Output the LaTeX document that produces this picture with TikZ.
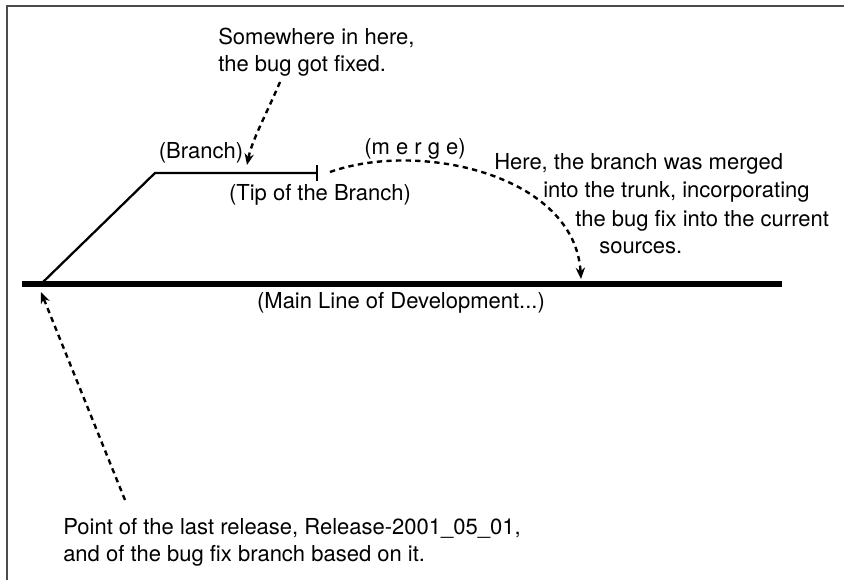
\documentclass[tikz,border=0pt]{standalone}
\usepackage{fontspec}
\setmainfont{TeX Gyre Heros}
\usetikzlibrary{arrows.meta}
\begin{document}
\begin{tikzpicture}[x=0.75pt, y=-0.75pt,
    lbl/.style={inner sep=0pt, font=\fontsize{16.5pt}{20.25pt}\selectfont},
    note/.style={line width=1.8pt, dash pattern=on 4pt off 3.2pt, -{Stealth[length=8.5pt,width=7pt]}}]
        \useasboundingbox (0,0) rectangle (844,580);
        \draw[line width=1.5pt, black!70] (7,580) -- (7,6) -- (844,6);

        \coordinate (mainstart) at (22,284);
        \coordinate (mainend) at (782,284);
        \coordinate (root) at (41,284);
        \coordinate (bend) at (155,173);
        \coordinate (tip) at (318,173);

        \draw[line width=4pt] (mainstart) -- (mainend);
        \draw[line width=1.7pt, -{Bar[width=12pt]}] (root) -- (bend) -- (tip);

        \node[lbl, anchor=base] (branch) at (201,159) {(Branch)};
        \node[lbl, anchor=base] (tiplbl) at (320,201) {(Tip of the Branch)};
        \node[lbl, anchor=base] (mainlbl) at (401,309) {(Main Line of Development...)};
        \node[lbl, anchor=base] (merge) at (415,155) {(m e r g e)};

        \node[lbl, anchor=base west] (fix1) at (218,45) {Somewhere in here,};
        \node[lbl, anchor=base west] (fix2) at (218,72) {the bug got fixed.};

        \node[lbl, anchor=base west] (here1) at (494,170) {Here, the branch was merged};
        \node[lbl, anchor=base west] (here2) at (543,198) {into the trunk, incorporating};
        \node[lbl, anchor=base west] (here3) at (575,227) {the bug fix into the current};
        \node[lbl, anchor=base west] (here4) at (599,254) {sources.};

        \node[lbl, anchor=base west] (rel1) at (63,535) {Point of the last release, Release-2001\_05\_01,};
        \node[lbl, anchor=base west] (rel2) at (63,562) {and of the bug fix branch based on it.};

        \coordinate (fixfrom) at (280,82);
        \coordinate (fixto) at (247,165);
        \draw[note] (fixfrom) .. controls (266,115) and (252,140) .. (fixto);

        \coordinate (mergefrom) at (330,172);
        \coordinate (mergeto) at (581,279);
        \draw[note] (mergefrom) .. controls (420,140) and (575,175) .. (mergeto);

        \coordinate (relfrom) at (125,500);
        \coordinate (relto) at (41,292);
        \draw[note] (relfrom) -- (relto);
    \end{tikzpicture}
\end{document}
